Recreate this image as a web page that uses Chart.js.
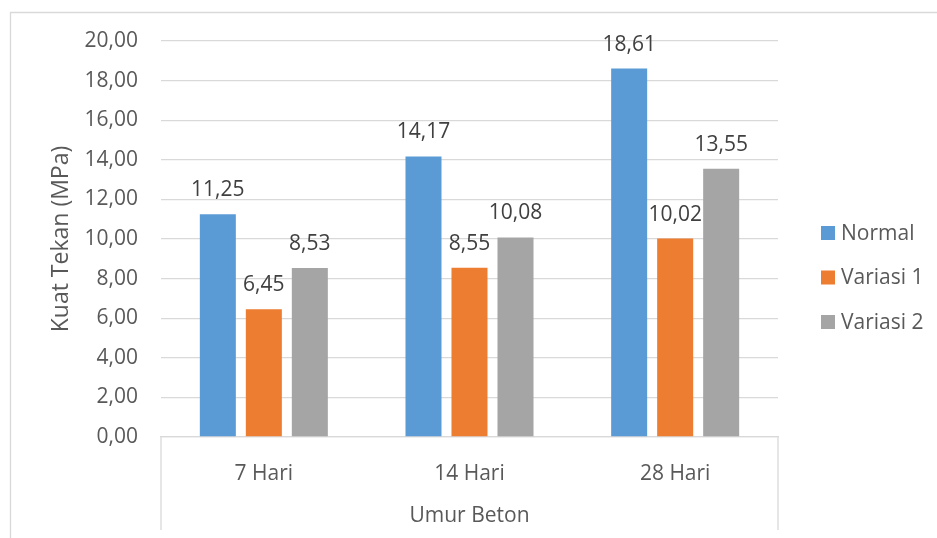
<!DOCTYPE html>
<html lang="id">
<head>
    <meta charset="UTF-8">
    <title>Kuat Tekan Beton</title>
    <script src="https://cdn.jsdelivr.net/npm/chart.js"></script>
    <style>
        html, body { margin: 0; padding: 0; background: #fff; }
        .chart-container { width: 937px; height: 538px; position: relative; }
    </style>
</head>
<body>
    <div class="chart-container">
        <canvas id="kuat-chart"></canvas>
    </div>
    <script>
        // Data
        const categories = ['7 Hari', '14 Hari', '28 Hari'];
        const seriesNames = ['Normal', 'Variasi 1', 'Variasi 2'];
        const normal = [11.25, 14.17, 18.61];
        const variasi1 = [6.45, 8.55, 10.02];
        const variasi2 = [8.53, 10.08, 13.55];
        const colors = ['#5B9BD5', '#ED7D31', '#A5A5A5'];
        const yTicks = [0, 2, 4, 6, 8, 10, 12, 14, 16, 18, 20];

        const FONT = '"Open Sans", sans-serif';
        const fmt = v => Number(v).toFixed(2).replace('.', ',');

        // value labels above each bar
        const barLabels = {
            id: 'barLabels',
            afterDatasetsDraw(chart) {
                const ctx = chart.ctx;
                ctx.save();
                ctx.font = '21px ' + FONT;
                ctx.fillStyle = '#404040';
                ctx.textAlign = 'center';
                ctx.textBaseline = 'alphabetic';
                chart.data.datasets.forEach((ds, i) => {
                    chart.getDatasetMeta(i).data.forEach((bar, j) => {
                        ctx.fillText(fmt(ds.data[j]), bar.x, bar.y - 18);
                    });
                });
                ctx.restore();
            }
        };

        // category box lines and outer chart border
        const frame = {
            id: 'frame',
            beforeDraw(chart) {
                const ctx = chart.ctx;
                const a = chart.chartArea;
                ctx.save();
                ctx.strokeStyle = '#D9D9D9';
                ctx.lineWidth = 1.3;
                ctx.beginPath();
                ctx.moveTo(10.5, chart.height);
                ctx.lineTo(10.5, 12.5);
                ctx.lineTo(chart.width, 12.5);
                ctx.moveTo(a.left, a.bottom);
                ctx.lineTo(a.left, 530);
                ctx.moveTo(a.right, a.bottom);
                ctx.lineTo(a.right, 530);
                ctx.stroke();
                ctx.restore();
            }
        };

        // legend on the right
        const sideLegend = {
            id: 'sideLegend',
            afterDraw(chart) {
                const ctx = chart.ctx;
                ctx.save();
                ctx.font = '21px ' + FONT;
                ctx.textBaseline = 'middle';
                ctx.textAlign = 'left';
                chart.data.datasets.forEach((ds, i) => {
                    const y = 233 + i * 44.5;
                    ctx.fillStyle = ds.backgroundColor;
                    ctx.fillRect(821, y - 7, 14, 14);
                    ctx.fillStyle = '#595959';
                    ctx.fillText(ds.label, 841, y + 1);
                });
                ctx.restore();
            }
        };

        const datasets = [normal, variasi1, variasi2].map((vals, i) => ({
            label: seriesNames[i],
            data: vals,
            backgroundColor: colors[i],
            categoryPercentage: 0.671,
            barPercentage: 0.783
        }));

        new Chart(document.getElementById('kuat-chart'), {
            type: 'bar',
            data: { labels: categories, datasets: datasets },
            plugins: [frame, barLabels, sideLegend],
            options: {
                responsive: true,
                maintainAspectRatio: false,
                animation: false,
                layout: { padding: { top: 41, right: 159, bottom: 0, left: 0 } },
                plugins: {
                    legend: { display: false },
                    tooltip: { enabled: false }
                },
                scales: {
                    x: {
                        grid: { display: false },
                        border: { display: true, color: '#D9D9D9', width: 1.3 },
                        ticks: {
                            color: '#595959',
                            font: { family: FONT, size: 21 },
                            padding: 16,
                            maxRotation: 0
                        },
                        title: {
                            display: true,
                            text: 'Umur Beton',
                            color: '#595959',
                            font: { family: FONT, size: 21 },
                            padding: { top: 9, bottom: 9 }
                        },
                        afterFit: s => { s.height = 101; }
                    },
                    y: {
                        min: 0,
                        max: 20,
                        afterBuildTicks: s => { s.ticks = yTicks.map(v => ({ value: v })); },
                        grid: { color: '#D9D9D9', lineWidth: 1.3, drawTicks: false },
                        border: { display: false },
                        ticks: {
                            color: '#595959',
                            font: { family: FONT, size: 21 },
                            padding: 23,
                            callback: v => fmt(v)
                        },
                        title: {
                            display: true,
                            text: 'Kuat Tekan (MPa)',
                            color: '#595959',
                            font: { family: FONT, size: 23 },
                            padding: { top: 48, bottom: 48 }
                        },
                        afterFit: s => { s.width = 161; }
                    }
                }
            }
        });
    </script>
</body>
</html>
